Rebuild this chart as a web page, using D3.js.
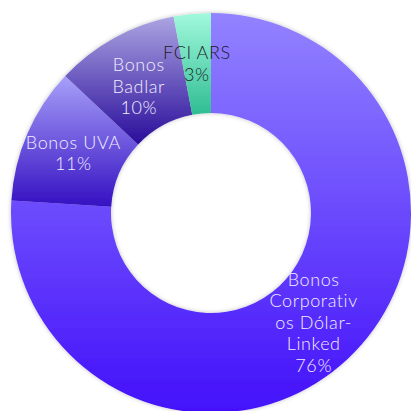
<!DOCTYPE html>
<html>
<head>
<meta charset="utf-8">
<script src="https://cdn.jsdelivr.net/npm/d3@7"></script>
<style>
  html, body { margin: 0; padding: 0; background: #fff; overflow: hidden; }
  svg { display: block; }
</style>
</head>
<body>
<svg id="chart" width="411" height="411"></svg>
<script>
// Portfolio composition
const categories = ["Bonos Corporativos Dólar-Linked", "Bonos UVA", "Bonos Badlar", "FCI ARS"];
const values = [76, 11, 10, 3];
// Label lines as they wrap inside each slice
const labelLines = [
  ["Bonos", "Corporativ", "os Dólar-", "Linked", "76%"],
  ["Bonos UVA", "11%"],
  ["Bonos", "Badlar", "10%"],
  ["FCI ARS", "3%"]
];
// Vertical gradient stops per slice (top, bottom)
const gradTop = ["#9283ff", "#a7a0f9", "#aba4e2", "#a2f9dc"];
const gradBottom = ["#4310fa", "#3510c2", "#290c9a", "#2fbd93"];
const labelColors = ["#f1eeff", "#f1eeff", "#f1eeff", "#1c1c28"];
// Vertical nudge of a label block from the slice centroid
const labelNudge = [0, 0, 5, 0];

const width = 411, height = 411;
const cx = 211, cy = 213;
const outerR = 200, innerR = 100;

const svg = d3.select("#chart");
const defs = svg.append("defs");

const shadow = defs.append("filter").attr("id", "sliceShadow")
  .attr("x", "-10%").attr("y", "-10%").attr("width", "120%").attr("height", "120%");
shadow.append("feDropShadow").attr("dx", 0).attr("dy", 0)
  .attr("stdDeviation", 2).attr("flood-color", "#000").attr("flood-opacity", 0.25);

categories.forEach((c, i) => {
  const g = defs.append("linearGradient").attr("id", "grad" + i)
    .attr("x1", 0).attr("y1", 0).attr("x2", 0).attr("y2", 1);
  g.append("stop").attr("offset", "0%").attr("stop-color", gradTop[i]);
  g.append("stop").attr("offset", "100%").attr("stop-color", gradBottom[i]);
});

const pie = d3.pie().sort(null).value(d => d);
const arcs = pie(values);
const arc = d3.arc().innerRadius(innerR).outerRadius(outerR);

const g = svg.append("g").attr("transform", `translate(${cx},${cy})`);

g.append("g").attr("filter", "url(#sliceShadow)")
  .selectAll("path").data(arcs).join("path")
  .attr("d", arc)
  .attr("fill", (d, i) => `url(#grad${i})`);

const lineH = 21.5;
const labels = g.append("g")
  .attr("font-family", "Lato, 'Open Sans', sans-serif")
  .attr("font-weight", 300)
  .attr("font-size", 18)
  .attr("letter-spacing", 0.6)
  .attr("text-anchor", "middle");

arcs.forEach((d, i) => {
  const [x, y] = arc.centroid(d);
  const lines = labelLines[i];
  const t = labels.append("text")
    .attr("fill", labelColors[i])
    .attr("transform", `translate(${x},${y + labelNudge[i]})`);
  lines.forEach((ln, k) => {
    t.append("tspan")
      .attr("x", 0)
      .attr("y", (k - (lines.length - 1) / 2) * lineH)
      .attr("dy", "0.35em")
      .text(ln);
  });
});
</script>
</body>
</html>
